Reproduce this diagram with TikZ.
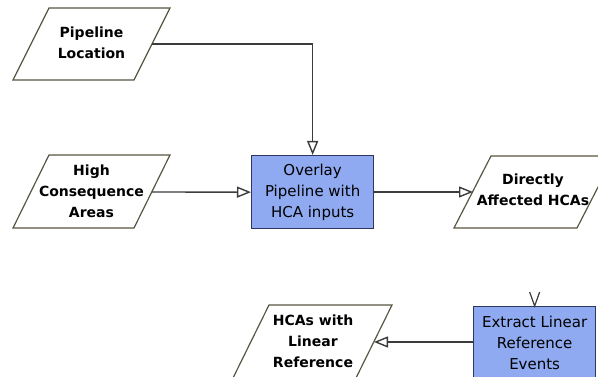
\documentclass[tikz,border=0pt]{standalone}
\usepackage{fontspec}
\setmainfont{DejaVu Sans}
\usetikzlibrary{arrows.meta}
\definecolor{boxfill}{RGB}{143,170,240}
\definecolor{boxline}{RGB}{45,55,95}
\definecolor{paraline}{RGB}{88,86,66}
\definecolor{conn}{RGB}{60,60,60}
\tikzset{
  paralabel/.style={align=center,font=\fontsize{14}{21}\selectfont\bfseries,text=black,inner sep=0pt},
  procbox/.style={draw=boxline,line width=1.3pt,fill=boxfill,minimum width=122pt,minimum height=73pt,align=center,font=\fontsize{15}{21}\selectfont,inner sep=0pt,anchor=north west},
  parashape/.style={draw=paraline,line width=1.2pt,fill=white},
  conline/.style={draw=conn,line width=1.4pt,-{Triangle[open,length=14pt,width=11pt,fill=white]}},
}
\begin{document}
\begin{tikzpicture}[x=1pt,y=-1pt]
\useasboundingbox (0,0) rectangle (598,377);
% parallelograms
\draw[parashape] (49,8) -- (170,8) -- (134,80) -- (13,80) -- cycle;
\node[paralabel] (pl) at (91.5,43) {Pipeline\\Location};
\draw[parashape] (49,155) -- (170,155) -- (134,228) -- (13,228) -- cycle;
\node[paralabel] (hca) at (91.5,191) {High\\Consequence\\Areas};
\draw[parashape] (491,156) -- (614,156) -- (577,228) -- (454,228) -- cycle;
\node[paralabel] (dir) at (533,190) {Directly\\Affected HCAs};
\draw[parashape] (269,305) -- (392,305) -- (356,378) -- (233,378) -- cycle;
\node[paralabel] (lr) at (313,341) {HCAs with\\Linear\\Reference};
% edge points
\coordinate (plR) at (152,44);
\coordinate (hcaR) at (152,192);
\coordinate (dirL) at (473,192);
\coordinate (lrR) at (374,342);
% process boxes
\node[procbox] (ov) at (251,155) {Overlay\\Pipeline with\\HCA inputs};
\node[procbox] (ex) at (473,306) {Extract Linear\\Reference\\Events};
% connectors
\draw[conline] (plR) -| (ov.north);
\draw[conline] (hcaR) -- (ov.west);
\draw[conline] (ov.east |- dirL) -- (dirL);
\draw[conline] (ex.west |- lrR) -- (lrR);
\draw[conn,line width=1.2pt] (ex.north)++(-5,-14) -- (ex.north) -- ++(5,-14);
\end{tikzpicture}
\end{document}
